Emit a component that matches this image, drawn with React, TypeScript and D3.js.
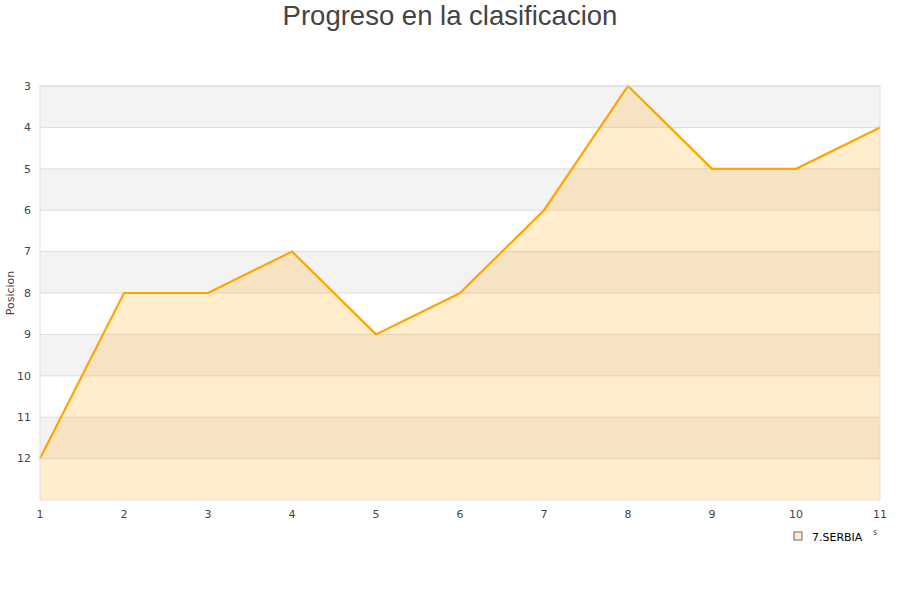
import { useEffect, useRef } from 'react';
import * as d3 from 'd3';

const jornadas = [1, 2, 3, 4, 5, 6, 7, 8, 9, 10, 11];
const posiciones = [12, 8, 8, 7, 9, 8, 6, 3, 5, 5, 4];
const yTicks = [3, 4, 5, 6, 7, 8, 9, 10, 11, 12];
const teamName = '7.SERBIA';

export default function App() {
  const svgRef = useRef<SVGSVGElement>(null);

  useEffect(() => {
    if (!svgRef.current) return;
    const root = d3.select(svgRef.current);
    root.selectAll('*').remove();

    const width = 900;
    const height = 600;
    const margin = { top: 86, right: 20, bottom: 100, left: 40 };
    const w = width - margin.left - margin.right;
    const h = height - margin.top - margin.bottom;
    const font = 'DejaVu Sans, sans-serif';

    const x = d3.scaleLinear().domain([1, 11]).range([0, w]);
    const y = d3.scaleLinear().domain([3, 13]).range([0, h]);

    root.append('text')
      .attr('x', width / 2)
      .attr('y', 25)
      .attr('text-anchor', 'middle')
      .attr('font-family', 'Liberation Sans, Arial, sans-serif')
      .attr('font-size', 27.5)
      .attr('fill', '#444')
      .text('Progreso en la clasificacion');

    const g = root.append('g').attr('transform', `translate(${margin.left},${margin.top})`);

    // bandas alternas
    yTicks.forEach((t, i) => {
      g.append('rect')
        .attr('x', 0)
        .attr('y', y(t))
        .attr('width', w)
        .attr('height', y(t + 1) - y(t))
        .attr('fill', i % 2 === 0 ? '#f3f3f3' : '#ffffff');
    });

    // rejilla
    yTicks.forEach(t => {
      g.append('line')
        .attr('x1', 0).attr('x2', w)
        .attr('y1', y(t)).attr('y2', y(t))
        .attr('stroke', '#dddddd');
    });

    const data = jornadas.map((j, i) => ({ j, p: posiciones[i] }));

    const area = d3.area<{ j: number; p: number }>()
      .x(d => x(d.j))
      .y0(h)
      .y1(d => y(d.p));

    g.append('path')
      .datum(data)
      .attr('fill', 'rgba(255,165,0,0.2)')
      .attr('d', area);

    const line = d3.line<{ j: number; p: number }>()
      .x(d => x(d.j))
      .y(d => y(d.p));

    g.append('path')
      .datum(data)
      .attr('fill', 'none')
      .attr('stroke', '#ffa500')
      .attr('stroke-width', 2.2)
      .attr('d', line);

    g.append('rect')
      .attr('x', 0).attr('y', 0)
      .attr('width', w).attr('height', h)
      .attr('fill', 'none')
      .attr('stroke', '#dddddd');

    // etiquetas eje Y
    yTicks.forEach(t => {
      g.append('text')
        .attr('x', -9)
        .attr('y', y(t))
        .attr('dy', '0.35em')
        .attr('text-anchor', 'end')
        .attr('font-family', font)
        .attr('font-size', 11)
        .attr('fill', '#444')
        .text(t);
    });

    // etiquetas eje X
    jornadas.forEach(j => {
      g.append('text')
        .attr('x', x(j))
        .attr('y', h + 18)
        .attr('text-anchor', 'middle')
        .attr('font-family', font)
        .attr('font-size', 11)
        .attr('fill', '#444')
        .text(j);
    });

    g.append('text')
      .attr('transform', 'rotate(-90)')
      .attr('x', -h / 2)
      .attr('y', -26)
      .attr('text-anchor', 'middle')
      .attr('font-family', font)
      .attr('font-size', 11)
      .attr('fill', '#444')
      .text('Posicion');

    // leyenda
    const legend = root.append('g').attr('transform', 'translate(794,532)');
    legend.append('rect')
      .attr('x', 0).attr('y', 0)
      .attr('width', 8).attr('height', 8)
      .attr('fill', 'rgba(255,165,0,0.2)')
      .attr('stroke', '#666')
      .attr('stroke-width', 1);
    legend.append('text')
      .attr('x', 18)
      .attr('y', 8.5)
      .attr('font-family', font)
      .attr('font-size', 11)
      .attr('fill', '#000')
      .text(teamName);
    legend.append('text')
      .attr('x', 79)
      .attr('y', 3)
      .attr('font-family', font)
      .attr('font-size', 8)
      .attr('fill', '#444')
      .text('s');
  }, []);

  return <svg ref={svgRef} width={900} height={600} style={{ display: 'block', position: 'absolute', left: 0, top: 0 }} />;
}
